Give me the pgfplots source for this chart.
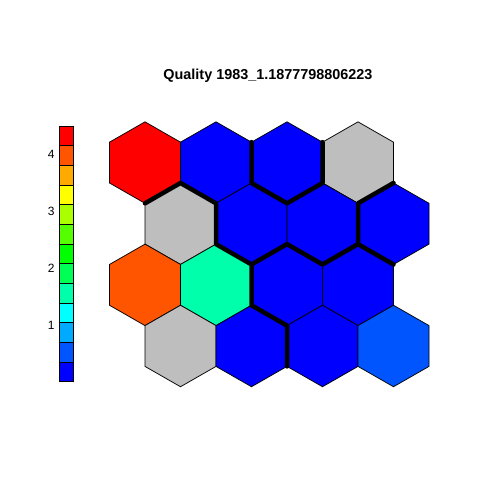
\documentclass[border=0pt]{standalone}
\usepackage{pgfplots}
\pgfplotsset{compat=1.18}
\usepackage{fontspec}
\setmainfont{Liberation Sans}
\definecolor{cA}{HTML}{0000FF}
\definecolor{cB}{HTML}{0055FF}
\definecolor{cC}{HTML}{00AAFF}
\definecolor{cD}{HTML}{00FFFF}
\definecolor{cE}{HTML}{00FFAA}
\definecolor{cF}{HTML}{00FF55}
\definecolor{cG}{HTML}{00FF00}
\definecolor{cH}{HTML}{55FF00}
\definecolor{cI}{HTML}{AAFF00}
\definecolor{cJ}{HTML}{FFFF00}
\definecolor{cK}{HTML}{FFAA00}
\definecolor{cL}{HTML}{FF5500}
\definecolor{cM}{HTML}{FF0000}
\definecolor{nagray}{HTML}{BEBEBE}
\begin{document}
\begin{tikzpicture}
\begin{axis}[scale only axis, width=480pt, height=480pt,
  xmin=-1.0423, xmax=5.7183, ymin=-1.898, ymax=4.9008,
  axis lines=none, clip=false, no markers]
\path (rel axis cs:0,0) rectangle (rel axis cs:1,1);
% colour bar
\pgfplotsset{cbar/.style={draw=black, line width=0.75pt}}
\addplot[cbar, fill=cA] coordinates {(-0.211,-0.5060)(-0.004,-0.5060)(-0.004,-0.2274)(-0.211,-0.2274)} -- cycle;
\addplot[cbar, fill=cB] coordinates {(-0.211,-0.2274)(-0.004,-0.2274)(-0.004,0.0512)(-0.211,0.0512)} -- cycle;
\addplot[cbar, fill=cC] coordinates {(-0.211,0.0512)(-0.004,0.0512)(-0.004,0.3298)(-0.211,0.3298)} -- cycle;
\addplot[cbar, fill=cD] coordinates {(-0.211,0.3298)(-0.004,0.3298)(-0.004,0.6084)(-0.211,0.6084)} -- cycle;
\addplot[cbar, fill=cE] coordinates {(-0.211,0.6084)(-0.004,0.6084)(-0.004,0.8870)(-0.211,0.8870)} -- cycle;
\addplot[cbar, fill=cF] coordinates {(-0.211,0.8870)(-0.004,0.8870)(-0.004,1.1656)(-0.211,1.1656)} -- cycle;
\addplot[cbar, fill=cG] coordinates {(-0.211,1.1656)(-0.004,1.1656)(-0.004,1.4442)(-0.211,1.4442)} -- cycle;
\addplot[cbar, fill=cH] coordinates {(-0.211,1.4442)(-0.004,1.4442)(-0.004,1.7228)(-0.211,1.7228)} -- cycle;
\addplot[cbar, fill=cI] coordinates {(-0.211,1.7228)(-0.004,1.7228)(-0.004,2.0014)(-0.211,2.0014)} -- cycle;
\addplot[cbar, fill=cJ] coordinates {(-0.211,2.0014)(-0.004,2.0014)(-0.004,2.2800)(-0.211,2.2800)} -- cycle;
\addplot[cbar, fill=cK] coordinates {(-0.211,2.2800)(-0.004,2.2800)(-0.004,2.5586)(-0.211,2.5586)} -- cycle;
\addplot[cbar, fill=cL] coordinates {(-0.211,2.5586)(-0.004,2.5586)(-0.004,2.8372)(-0.211,2.8372)} -- cycle;
\addplot[cbar, fill=cM] coordinates {(-0.211,2.8372)(-0.004,2.8372)(-0.004,3.1158)(-0.211,3.1158)} -- cycle;
\node[font=\fontsize{12}{14}\selectfont] at (axis cs:-0.32,2.715) {4};
\node[font=\fontsize{12}{14}\selectfont] at (axis cs:-0.32,1.912) {3};
\node[font=\fontsize{12}{14}\selectfont] at (axis cs:-0.32,1.101) {2};
\node[font=\fontsize{12}{14}\selectfont] at (axis cs:-0.32,0.288) {1};
% hexagons
\pgfplotsset{hx/.style={draw=black, line width=0.75pt}}
% row 4
\addplot[hx, fill=cM] coordinates {(1,3.175)(1.5,2.887)(1.5,2.309)(1,2.021)(0.5,2.309)(0.5,2.887)} -- cycle;
\addplot[hx, fill=cA] coordinates {(2,3.175)(2.5,2.887)(2.5,2.309)(2,2.021)(1.5,2.309)(1.5,2.887)} -- cycle;
\addplot[hx, fill=cA] coordinates {(3,3.175)(3.5,2.887)(3.5,2.309)(3,2.021)(2.5,2.309)(2.5,2.887)} -- cycle;
\addplot[hx, fill=nagray] coordinates {(4,3.175)(4.5,2.887)(4.5,2.309)(4,2.021)(3.5,2.309)(3.5,2.887)} -- cycle;
% row 3
\addplot[hx, fill=nagray] coordinates {(1.5,2.309)(2,2.021)(2,1.443)(1.5,1.155)(1,1.443)(1,2.021)} -- cycle;
\addplot[hx, fill=cA] coordinates {(2.5,2.309)(3,2.021)(3,1.443)(2.5,1.155)(2,1.443)(2,2.021)} -- cycle;
\addplot[hx, fill=cA] coordinates {(3.5,2.309)(4,2.021)(4,1.443)(3.5,1.155)(3,1.443)(3,2.021)} -- cycle;
\addplot[hx, fill=cA] coordinates {(4.5,2.309)(5,2.021)(5,1.443)(4.5,1.155)(4,1.443)(4,2.021)} -- cycle;
% row 2
\addplot[hx, fill=cL] coordinates {(1,1.443)(1.5,1.155)(1.5,0.577)(1,0.289)(0.5,0.577)(0.5,1.155)} -- cycle;
\addplot[hx, fill=cE] coordinates {(2,1.443)(2.5,1.155)(2.5,0.577)(2,0.289)(1.5,0.577)(1.5,1.155)} -- cycle;
\addplot[hx, fill=cA] coordinates {(3,1.443)(3.5,1.155)(3.5,0.577)(3,0.289)(2.5,0.577)(2.5,1.155)} -- cycle;
\addplot[hx, fill=cA] coordinates {(4,1.443)(4.5,1.155)(4.5,0.577)(4,0.289)(3.5,0.577)(3.5,1.155)} -- cycle;
% row 1
\addplot[hx, fill=nagray] coordinates {(1.5,0.577)(2,0.289)(2,-0.289)(1.5,-0.577)(1,-0.289)(1,0.289)} -- cycle;
\addplot[hx, fill=cA] coordinates {(2.5,0.577)(3,0.289)(3,-0.289)(2.5,-0.577)(2,-0.289)(2,0.289)} -- cycle;
\addplot[hx, fill=cA] coordinates {(3.5,0.577)(4,0.289)(4,-0.289)(3.5,-0.577)(3,-0.289)(3,0.289)} -- cycle;
\addplot[hx, fill=cB] coordinates {(4.5,0.577)(5,0.289)(5,-0.289)(4.5,-0.577)(4,-0.289)(4,0.289)} -- cycle;
% cluster boundaries
\pgfplotsset{bd/.style={draw=black, line width=4.5pt, line cap=round, line join=round}}
\addplot[bd] coordinates {(1,2.021)(1.5,2.309)(2,2.021)(2,1.443)(2.5,1.155)(2.5,0.577)(3,0.289)(3,-0.289)};
\addplot[bd] coordinates {(2.5,2.887)(2.5,2.309)(3,2.021)(3.5,2.309)(3.5,2.887)};
\addplot[bd] coordinates {(4.5,2.309)(4,2.021)(4,1.443)(4.5,1.155)};
\addplot[bd] coordinates {(2.5,1.155)(3,1.443)(3.5,1.155)(4,1.443)};
% title
\node[font=\fontsize{14.4}{17}\selectfont\bfseries] at (axis cs:2.732,3.824) {Quality 1983\_1.1877798806223};
\end{axis}
\end{tikzpicture}
\end{document}
